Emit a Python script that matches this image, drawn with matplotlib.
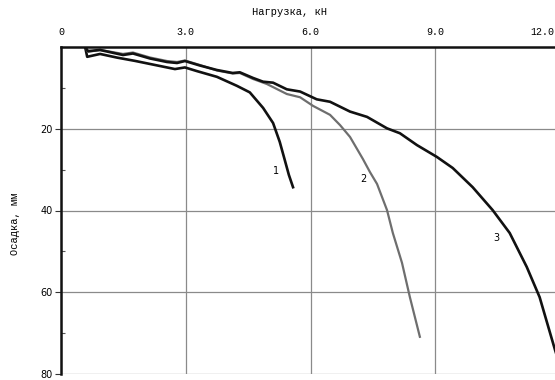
import matplotlib
matplotlib.use('Agg')
import matplotlib.pyplot as plt
import matplotlib.transforms as mtransforms

# нагрузка (кН) / осадка (мм)
load_1 = [0.58, 0.63, 0.94, 1.35, 1.78, 2.38, 2.74, 2.98, 3.27, 3.75, 4.23, 4.54,
          4.86, 5.10, 5.26, 5.38, 5.48, 5.58]
settle_1 = [0.0, 2.4, 1.7, 2.6, 3.4, 4.65, 5.4, 5.0, 5.9, 7.3, 9.5, 11.1,
            14.9, 18.6, 23.2, 27.6, 31.3, 34.3]

load_2 = [0.58, 0.65, 0.94, 1.49, 1.73, 2.14, 2.55, 2.79, 2.98, 3.34, 3.75, 4.13,
          4.30, 4.62, 4.95, 5.43, 5.75, 6.06, 6.47, 6.71, 6.95, 7.26, 7.43, 7.60,
          7.84, 7.98, 8.20, 8.39, 8.63]
settle_2 = [0.0, 1.2, 0.7, 1.7, 1.35, 2.57, 3.43, 3.67, 3.3, 4.4, 5.75, 6.48,
            6.36, 7.83, 9.05, 11.5, 12.3, 14.4, 16.6, 19.1, 22.0, 27.4, 30.6, 33.5,
            39.9, 45.5, 52.8, 61.2, 70.9]

load_3 = [0.58, 0.65, 0.94, 1.49, 1.73, 2.14, 2.55, 2.79, 2.98, 3.34, 3.75, 4.13,
          4.30, 4.62, 4.86, 5.10, 5.43, 5.75, 6.15, 6.47, 6.95, 7.36, 7.84, 8.15,
          8.56, 9.04, 9.42, 9.90, 10.38, 10.79, 11.20, 11.51, 11.88, 12.0]
settle_3 = [0.0, 1.0, 0.73, 1.96, 1.59, 2.81, 3.67, 3.91, 3.43, 4.53, 5.63, 6.36,
            6.19, 7.58, 8.49, 8.73, 10.35, 10.9, 12.8, 13.4, 15.8, 17.1, 19.9, 21.1,
            24.0, 26.9, 29.6, 34.3, 39.9, 45.5, 53.8, 61.2, 74.1, 78.0]

curve_labels = ['1', '2', '3']
label_pos = [(5.17, 30.3), (7.26, 32.3), (10.46, 46.7)]

x_ticks = [0, 3, 6, 9, 12]
x_ticklabels = ['0', '3.0', '6.0', '9.0', '12.0']
y_ticks = [20, 40, 60, 80]
y_minor = [10, 30, 50, 70]

fig = plt.figure(figsize=(5.55, 3.8), dpi=100)
# axes runs a little past the right edge, like in the source picture
ax = fig.add_axes([61 / 555, 6 / 380, 499 / 555, 327 / 380])

ax.plot(load_1, settle_1, color='#111111', lw=1.9, solid_joinstyle='round')
ax.plot(load_2, settle_2, color='#6e6e6e', lw=1.6, solid_joinstyle='round')
ax.plot(load_3, settle_3, color='#111111', lw=1.9, solid_joinstyle='round')

for txt, (lx, ly) in zip(curve_labels, label_pos):
    ax.text(lx, ly, txt, fontsize=7, ha='center', va='center', family='DejaVu Sans')

ax.set_xlim(0, 12)
ax.set_ylim(80, 0)

ax.xaxis.tick_top()
ax.set_xticks(x_ticks)
ax.set_xticklabels(x_ticklabels, family='Liberation Mono', fontsize=7.2)
ax.tick_params(axis='x', length=0, pad=7)
# last label sits inside the picture
last = ax.get_xticklabels()[-1]
last.set_ha('right')
last.set_transform(last.get_transform() +
                   mtransforms.ScaledTranslation(-6 / 100, 0, fig.dpi_scale_trans))

ax.set_yticks(y_ticks)
ax.set_yticklabels([str(v) for v in y_ticks], family='DejaVu Sans', fontsize=7)
ax.set_yticks(y_minor, minor=True)
ax.tick_params(axis='y', which='major', length=4, width=0.8, color='#333333', pad=2)
ax.tick_params(axis='y', which='minor', direction='in', length=3, width=0.8, color='#555555')

ax.grid(True, which='major', color='#8a8a8a', lw=0.9)
ax.set_axisbelow(True)

ax.spines['top'].set_linewidth(1.8)
ax.spines['left'].set_linewidth(1.8)
ax.spines['top'].set_color('#111111')
ax.spines['left'].set_color('#111111')
ax.spines['bottom'].set_visible(False)
ax.spines['right'].set_visible(False)

fig.text(290 / 555, 1 - 12 / 380, 'Нагрузка, кН', family='Liberation Mono',
         fontsize=7.5, ha='center', va='center')
fig.text(15 / 555, 1 - 224 / 380, 'Осадка, мм', family='Liberation Mono',
         fontsize=7.5, ha='center', va='center', rotation=90)

fig.savefig('out.png', dpi=100)
